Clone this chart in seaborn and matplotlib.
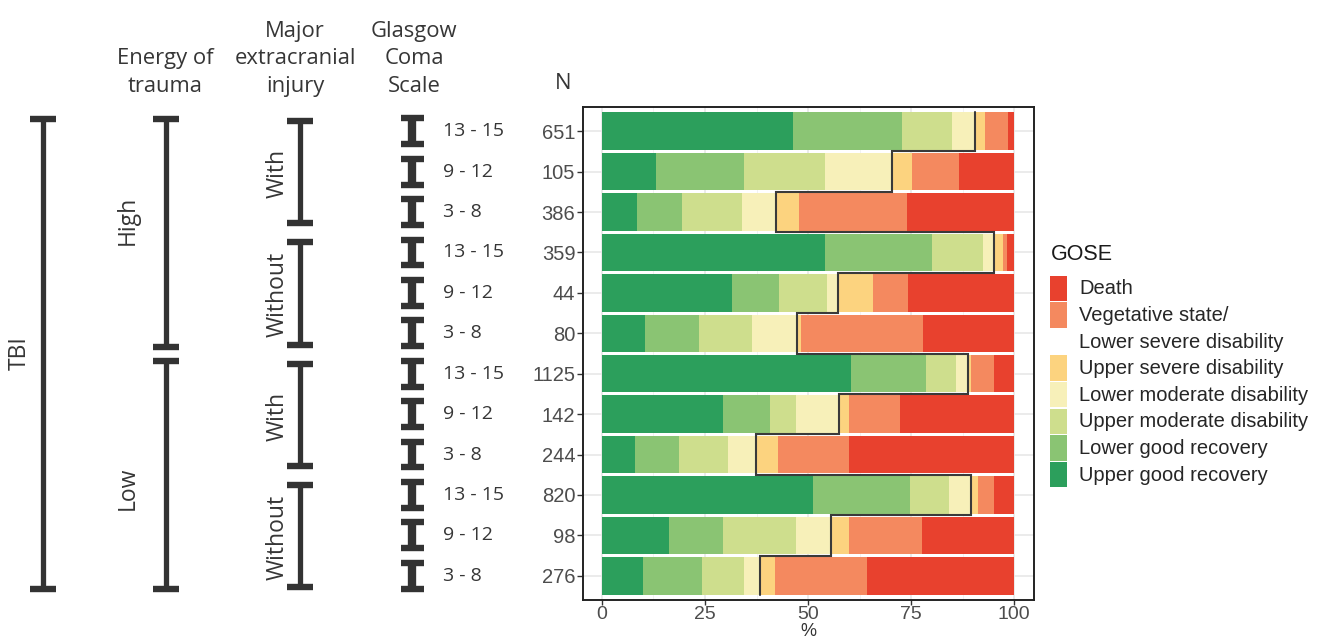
import numpy as np
import pandas as pd
import matplotlib
matplotlib.use("Agg")
import matplotlib.pyplot as plt
from matplotlib.patches import Rectangle
import seaborn as sns
from itertools import groupby

# ---- data -------------------------------------------------------------
n_patients = [651, 105, 386, 359, 44, 80, 1125, 142, 244, 820, 98, 276]
gcs_band = ["13 - 15", "9 - 12", "3 - 8"] * 4
extracranial = ["With"] * 3 + ["Without"] * 3 + ["With"] * 3 + ["Without"] * 3
energy = ["High"] * 6 + ["Low"] * 6

# GOSE distribution (% of patients) per stratum, best outcome first
upper_good_recovery = [46.4, 13.1, 8.6, 54.2, 31.5, 10.4, 60.3, 29.4, 8.1, 51.2, 16.3, 10.0]
lower_good_recovery = [26.3, 21.3, 10.9, 25.9, 11.4, 13.2, 18.3, 11.3, 10.7, 23.6, 13.1, 14.3]
upper_moderate_disability = [12.3, 19.8, 14.4, 12.4, 11.6, 12.9, 7.3, 6.4, 11.8, 9.4, 17.7, 10.1]
lower_moderate_disability = [5.5, 16.1, 8.2, 2.7, 2.7, 10.7, 2.8, 10.5, 6.7, 5.2, 8.4, 3.9]
upper_severe_disability = [2.4, 5.0, 5.6, 2.0, 8.5, 1.2, 0.7, 2.3, 5.3, 1.9, 4.5, 3.6]
vegetative_lower_severe = [5.7, 11.3, 26.4, 1.1, 8.5, 29.5, 5.6, 12.4, 17.4, 3.8, 17.7, 22.5]
death = [1.4, 13.4, 25.9, 1.7, 25.8, 22.1, 5.0, 27.7, 40.0, 4.9, 22.3, 35.6]

gose_labels = [
    "Upper good recovery",
    "Lower good recovery",
    "Upper moderate disability",
    "Lower moderate disability",
    "Upper severe disability",
    "Vegetative state/\nLower severe disability",
    "Death",
]
gose_colors = ["#2c9f5c", "#8ac473", "#cede8d", "#f7f0b9", "#fcd37f", "#f4895f", "#e8412e"]
favourable_upto = 3  # GOSE 5-8: up to and including lower moderate disability

# ---- styling ----------------------------------------------------------
sns.set_theme(style="white")
plt.rcParams["font.family"] = ["Liberation Sans", "DejaVu Sans"]
ann_font = "Open Sans"
ann_color = "#363636"
tick_color = "#4d4d4d"

W, H = 1327, 642
fig = plt.figure(figsize=(W / 100, H / 100), dpi=100)

panel_left, panel_right, panel_top, panel_bottom = 583, 1034, 107, 600
rect_y = (H - panel_bottom) / H
rect_h = (panel_bottom - panel_top) / H
ax = fig.add_axes([panel_left / W, rect_y, (panel_right - panel_left) / W, rect_h])

# ---- stacked bars -----------------------------------------------------
shares = pd.DataFrame(
    {
        gose_labels[0]: upper_good_recovery,
        gose_labels[1]: lower_good_recovery,
        gose_labels[2]: upper_moderate_disability,
        gose_labels[3]: lower_moderate_disability,
        gose_labels[4]: upper_severe_disability,
        gose_labels[5]: vegetative_lower_severe,
        gose_labels[6]: death,
    }
)
cumulative = shares.cumsum(axis=1)
cumulative["N"] = [str(n) for n in n_patients]
order = cumulative["N"].tolist()

bar_width = 0.93
for k in reversed(range(len(gose_labels))):
    sns.barplot(
        data=cumulative, x=gose_labels[k], y="N", order=order, orient="h",
        color=gose_colors[k], saturation=1, width=bar_width, linewidth=0,
        errorbar=None, ax=ax, zorder=2,
    )

# step line tracing the favourable-outcome boundary
fav = cumulative[gose_labels[favourable_upto]].to_numpy()
rows = np.arange(len(fav))
tops = rows - 0.5
bots = rows + 0.5
tops[0] = -bar_width / 2
bots[-1] = rows[-1] + bar_width / 2
step_x = np.repeat(fav, 2)
step_y = np.column_stack([tops, bots]).ravel()
ax.plot(step_x, step_y, color="#3a3a3a", lw=1.5, zorder=4, solid_joinstyle="miter")

ax.set_xlim(-4.6, 104.8)
ax.set_ylim(len(order) - 0.4, -0.6)
ax.set_xticks([0, 25, 50, 75, 100])
ax.set_xticks([12.5, 37.5, 62.5, 87.5], minor=True)
ax.grid(True, which="major", color="#e6e6e6", lw=1.1, zorder=0)
ax.grid(True, which="minor", axis="x", color="#f0f0f0", lw=0.6, zorder=0)
ax.set_axisbelow(True)
ax.tick_params(axis="y", which="major", length=4, width=1, color="#333333",
               labelsize=14.5, labelcolor=tick_color, pad=1.5, left=True)
ax.tick_params(axis="x", which="major", length=3.5, width=1, color="#333333",
               labelsize=14, labelcolor=tick_color, pad=0.5, bottom=True)
ax.tick_params(axis="x", which="minor", length=0)
ax.set_ylabel("")
ax.set_xlabel("%", fontsize=13, color="#333333", labelpad=0.5)
for sp in ax.spines.values():
    sp.set_visible(True)
    sp.set_color("#222222")
    sp.set_linewidth(1.4)

# ---- hierarchical strata on the left ------------------------------------
ann = fig.add_axes([0, rect_y, panel_left / W, rect_h])
ann.set_xlim(0, panel_left)
ann.set_ylim(ax.get_ylim())
ann.axis("off")
px_per_row = (panel_bottom - panel_top) / (ax.get_ylim()[0] - ax.get_ylim()[1])


def px_to_row(py):
    return ax.get_ylim()[1] + (py - panel_top) / px_per_row


def bracket(x, y0, y1, half, lw, cap_lw):
    ann.plot([x, x], [y0, y1], color="#333333", lw=lw, solid_capstyle="butt", clip_on=False)
    for y in (y0, y1):
        ann.plot([x - half, x + half], [y, y], color="#333333", lw=cap_lw,
                 solid_capstyle="butt", clip_on=False)


def runs(values):
    out, start = [], 0
    for key, grp in groupby(values):
        n = len(list(grp))
        out.append((key, start, start + n - 1))
        start += n
    return out


# TBI (all strata)
tbi_x = 43
bracket(tbi_x, -0.31, len(order) - 1 + 0.34, 13, 3.8, 4.6)
ann.text(20, (len(order) - 1) / 2, "TBI", rotation=90, ha="center", va="center",
         fontsize=16.5, family=ann_font, color=ann_color)

# energy of trauma
energy_x = 166
for key, a, b in runs(energy):
    bracket(energy_x, a - 0.31, b + 0.34, 13, 3.8, 4.6)
    mid = (a + b) / 2
    mid += -0.3 if a == 0 else 0.33  # labels pushed away from the break
    ann.text(128, mid, key, rotation=90, ha="center", va="center",
             fontsize=16.5, family=ann_font, color=ann_color)

# major extracranial injury
extra_x = 300
for key, a, b in runs(extracranial):
    bracket(extra_x, a - 0.25, b + 0.28, 13, 3.8, 4.6)
    ann.text(278, (a + b) / 2 + 0.05, key, rotation=90, ha="center", va="center",
             fontsize=16.5, family=ann_font, color=ann_color)

# Glasgow Coma Scale
gcs_x = 412
for i, band in enumerate(gcs_band):
    bracket(gcs_x, i - 0.32, i + 0.32, 11.5, 6.0, 4.6)
    ann.text(443, i, band, ha="left", va="center", fontsize=14, family=ann_font,
             color=ann_color)

header_row = px_to_row(92)
headers = [(165, "Energy of\ntrauma"), (295, "Major\nextracranial\ninjury"),
           (414, "Glasgow\nComa\nScale")]
for hx, txt in headers:
    ann.text(hx, header_row, txt, ha="center", va="baseline", fontsize=15.8,
             family=ann_font, color=ann_color, linespacing=1.42, clip_on=False)
ann.text(563, px_to_row(89), "N", ha="center", va="baseline", fontsize=15.8,
         family=ann_font, color=ann_color, clip_on=False)

# ---- legend -------------------------------------------------------------
leg = fig.add_axes([0, 0, 1, 1], facecolor="none")
leg.set_xlim(0, W)
leg.set_ylim(H, 0)
leg.axis("off")
leg.text(1051, 255, "GOSE", ha="left", va="center", fontsize=15.5, color="#1a1a1a")
entry_h = 26.6
y_cursor = 275.5
for k in reversed(range(len(gose_labels))):
    lines = gose_labels[k].split("\n")
    leg.add_patch(Rectangle((1050, y_cursor), 17, entry_h - 1.2,
                            facecolor=gose_colors[k], edgecolor="none"))
    for j, line in enumerate(lines):
        leg.text(1079, y_cursor + entry_h / 2 + j * entry_h, line, ha="left",
                 va="center", fontsize=14.5, color="#262626")
    y_cursor += entry_h * len(lines)

fig.savefig("out.png", dpi=100)
